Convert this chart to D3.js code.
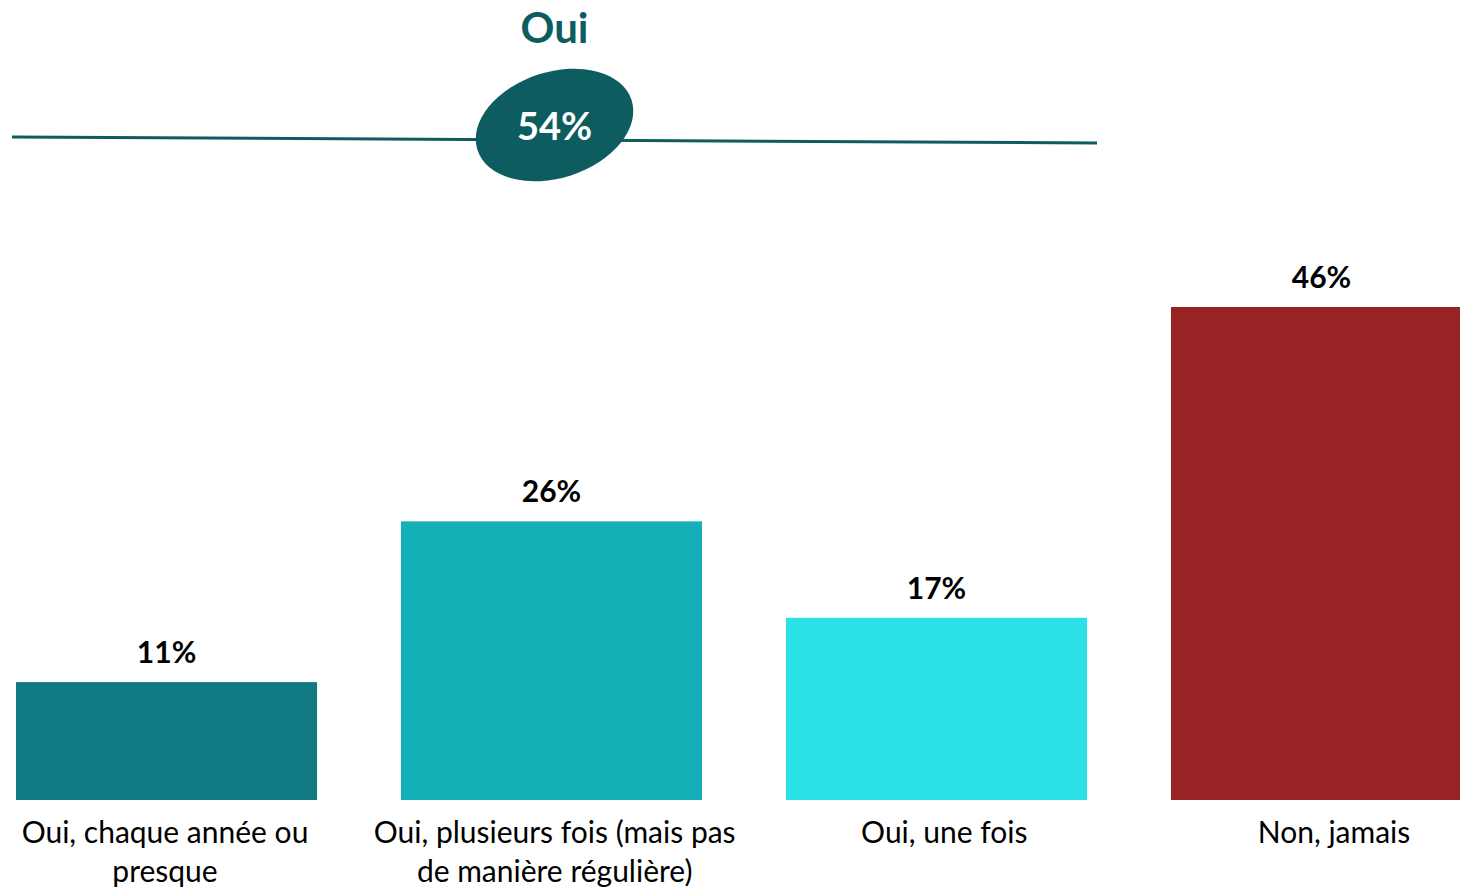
<!DOCTYPE html>
<html lang="fr">
<head>
<meta charset="utf-8">
<title>Oui / Non</title>
<script src="https://d3js.org/d3.v7.min.js"></script>
<style>
  body { margin: 0; background: #fff; }
  text { font-family: Lato, 'Open Sans', sans-serif; }
</style>
</head>
<body>
<script>
// data
const categories = ["Oui, chaque année ou|presque", "Oui, plusieurs fois (mais pas|de manière régulière)", "Oui, une fois", "Non, jamais"];
const values = [11, 26, 17, 46];
const colors = ["#107981", "#14afb7", "#2ce0e8", "#972325"];
const totalLabel = "Oui";
const totalValue = 54;

const W = 1460, H = 888;
const svg = d3.select("body").append("svg").attr("width", W).attr("height", H);

// scales
const x = d3.scaleBand().domain(categories).range([16, 1472]).paddingInner(0.218).paddingOuter(0);
const y = d3.scaleLinear().domain([0, 46]).range([800, 307]);
// category text sits slightly to the right of the bars in the original
const xLab = d3.scalePoint().domain(categories).range([165, 1334]);

// bars
svg.selectAll("rect.bar")
  .data(values)
  .enter().append("rect")
  .attr("class", "bar")
  .attr("x", (d, i) => x(categories[i]))
  .attr("y", d => y(d))
  .attr("width", x.bandwidth())
  .attr("height", d => y(0) - y(d))
  .attr("fill", (d, i) => colors[i]);

// value labels
svg.selectAll("text.val")
  .data(values)
  .enter().append("text")
  .attr("class", "val")
  .attr("x", (d, i) => x(categories[i]) + x.bandwidth() / 2)
  .attr("y", d => y(d) - 19)
  .attr("text-anchor", "middle")
  .attr("font-size", 30)
  .attr("font-weight", "bold")
  .attr("fill", "#000")
  .text(d => d + "%");

// category labels (two lines)
const lab = svg.selectAll("text.cat")
  .data(categories)
  .enter().append("text")
  .attr("class", "cat")
  .attr("text-anchor", "middle")
  .attr("font-size", 30)
  .attr("fill", "#000");
lab.each(function(d) {
  d3.select(this).selectAll("tspan")
    .data(d.split("|"))
    .enter().append("tspan")
    .attr("x", xLab(d))
    .attr("y", (line, k) => 843 + k * 39)
    .text(line => line);
});

// "Oui" bracket line with ellipse
svg.append("line")
  .attr("x1", 12).attr("y1", 137)
  .attr("x2", 1097).attr("y2", 143)
  .attr("stroke", "#0d5c5f")
  .attr("stroke-width", 3);

const cxOui = x(categories[1]) + x.bandwidth() / 2;
svg.append("ellipse")
  .attr("cx", 0).attr("cy", 0)
  .attr("rx", 81).attr("ry", 53)
  .attr("transform", `translate(${cxOui + 3},125) rotate(-18)`)
  .attr("fill", "#0d5c5f");

svg.append("text")
  .attr("x", cxOui + 3)
  .attr("y", 140)
  .attr("text-anchor", "middle")
  .attr("font-size", 38)
  .attr("font-weight", "bold")
  .attr("fill", "#fff")
  .text(totalValue + "%");

svg.append("text")
  .attr("x", cxOui + 3)
  .attr("y", 43)
  .attr("text-anchor", "middle")
  .attr("font-size", 42)
  .attr("font-weight", "bold")
  .attr("fill", "#0d5c5f")
  .text(totalLabel);
</script>
</body>
</html>
